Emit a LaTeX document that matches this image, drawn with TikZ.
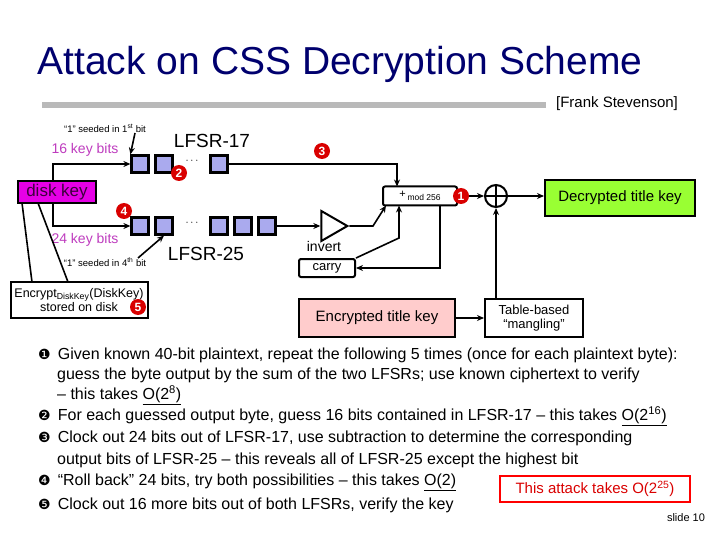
\documentclass[tikz,border=0pt]{standalone}
\usepackage{fontspec}
\setmainfont{Liberation Sans}
\newfontfamily\dv{DejaVu Sans}
\usetikzlibrary{arrows.meta,shapes.geometric}
\begin{document}
\begin{tikzpicture}[x=1pt,y=-1pt,
  cell/.style={draw,line width=2.2pt,fill={rgb,255:red,170;green,170;blue,238},minimum size=17pt,inner sep=0pt},
  red/.style={circle,fill=red!85!black,text=white,inner sep=0pt,minimum size=16pt,font=\bfseries\fontsize{12}{12}\selectfont},
  bx/.style={draw,line width=2pt,inner sep=2pt},
  wire/.style={line width=1.6pt},
  arr/.style={wire,-{Stealth[length=7pt,width=6pt]}},
  lbl/.style={font=\fontsize{11}{12}\selectfont,inner sep=0pt},
  bul/.style={anchor=west,inner sep=0pt,font=\fontsize{16}{16}\selectfont}]
\useasboundingbox (0,0) rectangle (720,540);
\node[inner sep=0pt,font=\fontsize{39}{42}\selectfont,text={rgb,255:red,0;green,0;blue,110}] (title) at (340,64) {Attack on CSS Decryption Scheme};
\fill[gray!55] (42,102) rectangle (546,108);
\node[lbl,font=\fontsize{15}{15}\selectfont] (fs) at (617,104) {[Frank Stevenson]};
% LFSR-17
\node[cell] (a1) at (140,164) {};
\node[cell] (a2) at (164,164) {};
\node[lbl] (ad) at (192,161) {$\cdots$};
\node[cell] (a3) at (219,164) {};
\node[lbl,font=\fontsize{19}{19}\selectfont] (l17) at (212,141) {LFSR-17};
% LFSR-25
\node[cell] (b1) at (140,226) {};
\node[cell] (b2) at (164,226) {};
\node[lbl] (bd) at (192,223) {$\cdots$};
\node[cell] (b3) at (219,226) {};
\node[cell] (b4) at (243,226) {};
\node[cell] (b5) at (267,226) {};
\node[lbl,font=\fontsize{19}{19}\selectfont] (l25) at (206,254) {LFSR-25};
% disk key
\node[bx,fill={rgb,255:red,230;green,0;blue,230},minimum width=78pt,minimum height=22pt,font=\fontsize{17}{17}\selectfont,text={rgb,255:red,60;green,0;blue,60}] (dk) at (57,192) {disk key};
\draw[arr] (53,181) -- (53,164) -- (a1.west);
\draw[arr] (53,203) -- (53,226) -- (b1.west);
\node[lbl,text={rgb,255:red,190;green,60;blue,190},font=\fontsize{14}{14}\selectfont] (k16) at (85,150) {16 key bits};
\node[lbl,text={rgb,255:red,190;green,60;blue,190},font=\fontsize{14}{14}\selectfont] (k24) at (85,240) {24 key bits};
\node[lbl,font=\fontsize{9.5}{9.5}\selectfont] (s1) at (105,128) {``1'' seeded in 1\textsuperscript{st} bit};
\node[lbl,font=\fontsize{9.5}{9.5}\selectfont] (s4) at (105,262) {``1'' seeded in 4\textsuperscript{th} bit};
\coordinate (s1t) at (135,133);
\coordinate (s4t) at (138,258);
\draw[arr] (s1t) -- (a1.north west);
\draw[arr] (s4t) -- (b2.south);
% Encrypt disk key
\node[bx,minimum width=137pt,minimum height=36pt,align=center,font=\fontsize{12.5}{14}\selectfont] (ek) at (79,300) {Encrypt\textsubscript{DiskKey}(DiskKey)\\stored on disk\hspace{18pt}};
\draw[wire] (22,203) -- (32,282);
\draw[wire] (38,203) -- (68,282);
% adder
\node[bx,rounded corners=2pt,minimum width=74pt,minimum height=19pt] (mod) at (420,196) {};
\node[lbl] (modt) at (mod) {\raisebox{3pt}{+}\,{\fontsize{8.5}{8.5}\selectfont mod 256}};
\draw[arr] (a3.east) -- (397,164) -- (397,186.5);
\node[isosceles triangle,draw,line width=2pt,minimum height=26pt,minimum width=26pt,inner sep=0pt,isosceles triangle apex angle=60] (inv) at (330,226) {};
\draw[arr] (b5.east) -- (inv.west);
\draw[arr] (inv.apex) -- (373,226) -- (386,205.5);
\node[lbl,font=\fontsize{14}{14}\selectfont] (invt) at (324,246) {invert};
\node[bx,rounded corners=2pt,minimum width=56pt,minimum height=18pt,font=\fontsize{13}{13}\selectfont] (car) at (327,268) {carry};
\draw[arr] (440,206) -- (440,268) -- (car.east);
\draw[arr] (car.north east) -- (399,238) -- (399,205.5);
% xor
\node[circle,draw,line width=2pt,minimum size=22pt,inner sep=0pt] (xor) at (496,196) {};
\draw[wire] (xor.north) -- (xor.south) (xor.west) -- (xor.east);
\draw[arr] (mod.east) -- (xor.west);
\node[bx,fill={rgb,255:red,153;green,255;blue,51},minimum width=150pt,minimum height=36pt,font=\fontsize{15}{15}\selectfont] (dec) at (620,198) {Decrypted title key};
\draw[arr] (xor.east) -- (xor.east-|dec.west);
\node[bx,fill={rgb,255:red,255;green,204;blue,204},minimum width=156pt,minimum height=38pt,font=\fontsize{15}{15}\selectfont] (enc) at (377,318) {Encrypted title key};
\node[bx,minimum width=98pt,minimum height=38pt,align=center,font=\fontsize{13}{14}\selectfont] (mang) at (534,318) {Table-based\\``mangling''};
\draw[arr] (enc.east) -- (mang.west);
\draw[arr] (mang.north-|xor) -- (xor.south);
% red markers
\node[red] (r1) at (461,196) {1};
\node[red] (r2) at (179,173) {2};
\node[red] (r3) at (322,151) {3};
\node[red] (r4) at (124,211) {4};
\node[red] (r5) at (138,307) {5};
% text
\node[bul] (t1) at (38,355) {{\dv\fontsize{14}{14}\selectfont ❶}\, Given known 40-bit plaintext, repeat the following 5 times (once for each plaintext byte):};
\node[bul] (t2) at (57,375) {guess the byte output by the sum of the two LFSRs; use known ciphertext to verify};
\node[bul] (t3) at (57,395) {– this takes \underline{O(2\textsuperscript{8})}};
\node[bul] (t4) at (38,416) {{\dv\fontsize{14}{14}\selectfont ❷}\, For each guessed output byte, guess 16 bits contained in LFSR-17 – this takes \underline{O(2\textsuperscript{16})}};
\node[bul] (t5) at (38,438) {{\dv\fontsize{14}{14}\selectfont ❸}\, Clock out 24 bits out of LFSR-17, use subtraction to determine the corresponding};
\node[bul] (t6) at (57,460) {output bits of LFSR-25 – this reveals all of LFSR-25 except the highest bit};
\node[bul] (t7) at (38,482) {{\dv\fontsize{14}{14}\selectfont ❹}\, “Roll back” 24 bits, try both possibilities – this takes \underline{O(2)}};
\node[bul] (t8) at (38,505) {{\dv\fontsize{14}{14}\selectfont ❺}\, Clock out 16 more bits out of both LFSRs, verify the key};
\node[draw=red,line width=2pt,minimum width=190pt,minimum height=26pt,text=red!85!black,font=\fontsize{15}{15}\selectfont] (att) at (595,489) {This attack takes O(2\textsuperscript{25})};
\node[lbl,font=\fontsize{11}{11}\selectfont] (sl) at (686,518) {slide 10};
\end{tikzpicture}
\end{document}
